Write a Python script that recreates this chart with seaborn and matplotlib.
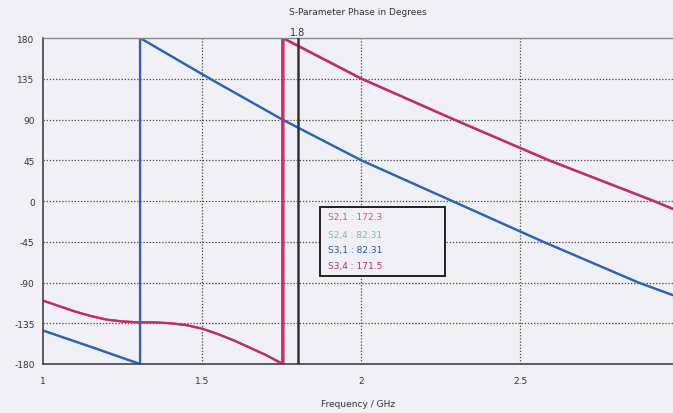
import matplotlib
matplotlib.use("Agg")
import matplotlib.pyplot as plt
import seaborn as sns
import pandas as pd
from matplotlib.patches import Rectangle

# ---- data ----
freq_s31 = [1.0, 1.15, 1.305, 1.305, 1.525, 1.752, 2.0, 2.286, 2.572, 2.871, 2.98]
phase_s31 = [-143, -161, -180, 180, 135, 90, 45, 0, -45, -90, -104]

freq_s24 = [1.0, 1.15, 1.305, 1.305, 1.525, 1.752, 2.0, 2.286, 2.572, 2.871, 2.98]
phase_s24 = [-143, -161, -180, 180, 135, 90, 45, 0, -45, -90, -104]

freq_s34 = [1.0, 1.05, 1.1, 1.15, 1.2, 1.25, 1.3, 1.35, 1.4, 1.45, 1.5, 1.55, 1.6,
            1.65, 1.7, 1.752, 1.752, 2.0, 2.29, 2.588, 2.918, 2.98]
phase_s34 = [-110, -116, -122, -127, -131, -133, -134, -134, -135, -137, -141, -147,
             -154, -162, -170, -180, 180, 135, 90, 45, 0, -9]

freq_s21 = [1.0, 1.05, 1.1, 1.15, 1.2, 1.25, 1.3, 1.35, 1.4, 1.45, 1.5, 1.55, 1.6,
            1.65, 1.7, 1.756, 1.756, 2.0, 2.29, 2.588, 2.918, 2.98]
phase_s21 = [-110, -116, -122, -127, -131, -133, -134, -134, -135, -137, -141, -147,
             -154, -162, -170, -180, 180, 135.5, 90.5, 45.5, 0.5, -8.5]

series_names = ["S2,4", "S2,1", "S3,1", "S3,4"]
marker_freq = 1.8
marker_values = {"S2,1": "172.3", "S2,4": "82.31", "S3,1": "82.31", "S3,4": "171.5"}
legend_order = ["S2,1", "S2,4", "S3,1", "S3,4"]
y_ticks = [180, 135, 90, 45, 0, -45, -90, -135, -180]
x_ticks = [1, 1.5, 2, 2.5]
x_tick_labels = ["1", "1.5", "2", "2.5"]

colors = {"S2,1": "#e33a66", "S2,4": "#4fb38a", "S3,1": "#2f5fbf", "S3,4": "#b8306e"}
text_colors = {"S2,1": "#e0506e", "S2,4": "#6cc29c", "S3,1": "#2f4fa8", "S3,4": "#b0306a"}

frames = []
for name, f, p in [("S2,4", freq_s24, phase_s24), ("S2,1", freq_s21, phase_s21),
                   ("S3,1", freq_s31, phase_s31), ("S3,4", freq_s34, phase_s34)]:
    d = pd.DataFrame({"freq": f, "phase": p})
    d["series"] = name
    frames.append(d)
df = pd.concat(frames, ignore_index=True)

sns.set_theme(style="white")
plt.rcParams['font.family'] = ['DejaVu Sans']

bg = "#f1f0f7"
fig = plt.figure(figsize=(6.73, 4.14), dpi=100, facecolor=bg)
ax = fig.add_axes([43/673, 1 - 365/414, 630/673, 326/414])
ax.set_facecolor(bg)

for name in series_names:
    sub = df[df["series"] == name]
    sns.lineplot(data=sub, x="freq", y="phase", sort=False, estimator=None,
                 color=colors[name], linewidth=1.6, ax=ax, legend=False)

ax.set_xlim(1.0, 2.98)
ax.set_ylim(-180, 180)
ax.set_yticks(y_ticks)
ax.set_yticklabels([str(v) for v in y_ticks])
ax.set_xticks(x_ticks)
ax.set_xticklabels(x_tick_labels)
ax.tick_params(axis="both", labelsize=6.5, colors="#555555", labelcolor="#333333",
               length=4, width=0.8, direction="out", pad=2)
ax.tick_params(axis="x", pad=5)

# grid (dotted), skipping the boundaries
for yv in y_ticks:
    if abs(yv) != 180:
        ax.axhline(yv, color="#444444", linestyle=(0, (1, 1.5)), linewidth=0.9, zorder=0)
for xv in x_ticks[1:]:
    ax.axvline(xv, color="#444444", linestyle=(0, (1, 1.5)), linewidth=0.9, zorder=0)

ax.spines["right"].set_visible(False)
ax.spines["left"].set_color("#444444")
ax.spines["left"].set_linewidth(1.2)
ax.spines["bottom"].set_color("#444444")
ax.spines["bottom"].set_linewidth(1.2)
ax.spines["top"].set_color("#888888")
ax.spines["top"].set_linewidth(1.0)

ax.set_xlabel("Frequency / GHz", fontsize=6.5, color="#333333", labelpad=10)
ax.set_ylabel("")
ax.set_title("S-Parameter Phase in Degrees", fontsize=6.5, color="#333333", pad=17)

# marker
ax.axvline(marker_freq, color="#333333", linewidth=1.8, zorder=5)
ax.text(marker_freq, 181, "1.8", ha="center", va="bottom", fontsize=7,
        color="#333333", transform=ax.transData)

# marker readout box
box_left, box_bottom = 0.4397, 0.2709
box_w, box_h = 0.638 - 0.4397, 0.4825 - 0.2709
ax.add_patch(Rectangle((box_left, box_bottom), box_w, box_h, transform=ax.transAxes,
                       facecolor=bg, edgecolor="#222222", linewidth=1.4, zorder=6))
line_y = [0.452, 0.397, 0.350, 0.302]
for name, yy in zip(legend_order, line_y):
    ax.text(0.452, yy, f"{name} : {marker_values[name]}", transform=ax.transAxes,
            fontsize=6.5, color=text_colors[name], va="center", ha="left", zorder=7)

fig.savefig("out.png", dpi=100, facecolor=bg)
